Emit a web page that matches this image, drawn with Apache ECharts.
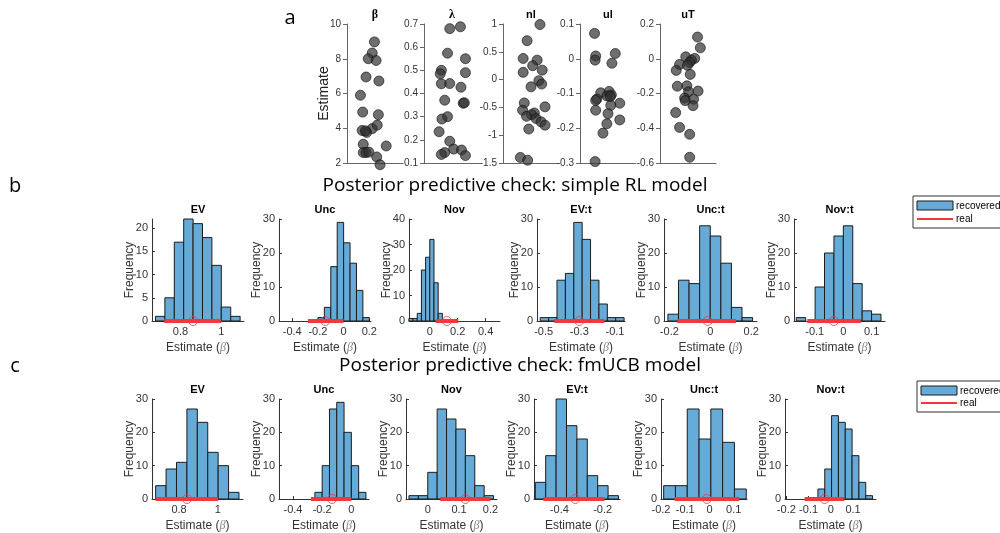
<!DOCTYPE html>
<html>
<head>
<meta charset="utf-8">
<title>Posterior predictive check</title>
<script src="https://cdn.jsdelivr.net/npm/echarts@6/dist/echarts.min.js"></script>
<style>html,body{margin:0;padding:0;background:#fff;}</style>
</head>
<body>
<div id="main" style="width:1000px;height:533px;"></div>
<script>
// ---- panel a: individual estimates, [jitter 0..1, value] ----
var aNames = ['β', 'λ', 'nl', 'ul', 'uT'];
var aLimits = [[2, 10, 2], [0.1, 0.7, 0.1], [-1.5, 1, 0.5], [-0.3, 0.1, 0.1], [-0.6, 0.2, 0.2]];
var betaPts = [[0.49,8.97],[0.45,8.33],[0.38,8.0],[0.52,7.9],[0.34,6.95],[0.57,6.72],[0.24,5.9],
  [0.28,4.93],[0.56,4.78],[0.45,3.98],[0.54,4.18],[0.27,3.87],[0.35,3.76],[0.33,3.85],[0.29,3.08],
  [0.70,2.98],[0.29,2.6],[0.34,2.6],[0.39,2.63],[0.53,2.35],[0.59,1.9]];
var lambdaPts = [[0.46,0.68],[0.65,0.688],[0.42,0.574],[0.74,0.55],[0.31,0.50],[0.29,0.485],[0.74,0.49],
  [0.31,0.442],[0.46,0.443],[0.66,0.427],[0.37,0.371],[0.70,0.358],[0.72,0.36],[0.42,0.30],[0.32,0.29],
  [0.27,0.235],[0.46,0.194],[0.53,0.16],[0.67,0.156],[0.37,0.145],[0.31,0.137],[0.74,0.132]];
var nlPts = [[0.66,0.99],[0.43,0.70],[0.36,0.38],[0.61,0.35],[0.53,0.25],[0.70,0.17],[0.36,0.13],
  [0.64,-0.02],[0.69,-0.08],[0.50,-0.13],[0.38,-0.42],[0.75,-0.49],[0.35,-0.55],[0.56,-0.60],[0.51,-0.63],
  [0.42,-0.66],[0.59,-0.70],[0.68,-0.76],[0.75,-0.82],[0.46,-0.89],[0.31,-1.40],[0.44,-1.45]];
var ulPts = [[0.26,0.073],[0.28,0.008],[0.27,-0.004],[0.63,0.015],[0.57,-0.013],[0.37,-0.098],[0.52,-0.094],
  [0.48,-0.107],[0.56,-0.104],[0.54,-0.109],[0.30,-0.116],[0.28,-0.12],[0.71,-0.128],[0.55,-0.134],
  [0.28,-0.148],[0.50,-0.158],[0.71,-0.176],[0.48,-0.187],[0.41,-0.214],[0.27,-0.296]];
var uTPts = [[0.67,0.125],[0.72,0.063],[0.46,0.011],[0.62,0.002],[0.56,-0.008],[0.53,-0.021],[0.35,-0.033],
  [0.49,-0.038],[0.29,-0.067],[0.54,-0.09],[0.31,-0.158],[0.48,-0.156],[0.51,-0.19],[0.68,-0.186],
  [0.44,-0.226],[0.60,-0.233],[0.45,-0.241],[0.59,-0.27],[0.28,-0.31],[0.35,-0.395],[0.53,-0.435],[0.53,-0.567]];
var aPts = [betaPts, lambdaPts, nlPts, ulPts, uTPts];

// ---- panels b/c: histograms of recovered estimates ----
var histNames = ['EV', 'Unc', 'Nov', 'EV:t', 'Unc:t', 'Nov:t'];

// simple RL model
var rlCounts = [[1,5,17,22,21,18,12,3,1], [1,4,16,29,23,17,9,1], [1,1,3,20,25,32,15,3],
  [1,1,12,14,29,24,12,5,1,1], [2,12,11,28,25,17,4,1], [1,0,10,20,25,28,11,3,2]];
var rlBinStart = [0.678, -0.2, -0.15, -0.519, -0.207, -0.165];
var rlBinWidth = [0.046, 0.05, 0.03, 0.047, 0.0517, 0.0331];
var rlReal = [[0.721,1.0,0.862], [-0.278,0.0,-0.143], [0.043,0.204,0.122],
  [-0.44,-0.16,-0.30], [-0.161,0.125,-0.013], [-0.126,0.062,-0.033]];
var rlXlim = [[0.661,1.111], [-0.503,0.213], [-0.149,0.503], [-0.537,-0.044], [-0.226,0.228], [-0.173,0.147]];
var rlXticks = [[0.8,1], [-0.4,-0.2,0,0.2], [0,0.2,0.4], [-0.5,-0.3,-0.1], [-0.2,0,0.2], [-0.1,0,0.1]];
var rlYmax = [22, 30, 40, 30, 30, 30];
var rlYticks = [[0,5,10,15,20], [0,10,20,30], [0,10,20,30,40], [0,10,20,30], [0,10,20,30], [0,10,20,30]];

// fmUCB model
var ucbCounts = [[4,9,11,27,23,14,10,2], [2,10,27,29,20,10,2], [1,1,8,27,24,21,13,4,1],
  [5,13,30,22,18,7,4,1], [4,4,27,18,27,17,3], [3,9,25,23,21,13,5,1]];
var ucbBinStart = [0.679, -0.25, -0.06, -0.511, -0.189, -0.058];
var ucbBinWidth = [0.0539, 0.05, 0.03, 0.048, 0.0487, 0.0307];
var ucbReal = [[0.679,1.002,0.841], [-0.277,0.0,-0.133], [0.04,0.2,0.12],
  [-0.474,-0.192,-0.326], [-0.144,0.123,-0.011], [-0.118,0.061,-0.028]];
var ucbXlim = [[0.660,1.131], [-0.496,0.121], [-0.0695,0.221], [-0.517,-0.12], [-0.2,0.155], [-0.206,0.203]];
var ucbXticks = [[0.8,1], [-0.4,-0.2,0], [0,0.1,0.2], [-0.4,-0.2], [-0.2,-0.1,0,0.1], [-0.2,-0.1,0,0.1]];
var ucbYmax = [30, 30, 30, 30, 30, 30];
var ucbYticks = [[0,10,20,30], [0,10,20,30], [0,10,20,30], [0,10,20,30], [0,10,20,30], [0,10,20,30]];

// ---- layout ----
var aLeft = [347, 424, 503, 580, 660], aWidth = 56, aTop = 24, aHeight = 139;
var bLeft = [152, 279, 409, 537, 664, 794], bWidth = [92, 92, 91, 88, 93, 91], bTop = 219;
var cLeft = [152, 279, 406, 534, 661, 785], cWidth = [91, 90, 91, 86, 86, 91], cTop = 399;
var histHeight = 102;

var FONT = 'Liberation Sans';
var BAR = '#66aad7';
var RED = '#f03a3a';

var myChart = echarts.init(document.getElementById('main'));
var grids = [], xAxes = [], yAxes = [], series = [], graphics = [];

function text(x, y, str, font, color, align) {
  return {type: 'text', x: x, y: y, silent: true,
    style: {text: str, font: font, fill: color || '#000', textAlign: align || 'center', textVerticalAlign: 'middle'}};
}

// panel a
aPts.forEach(function (pts, i) {
  var g = grids.length;
  grids.push({left: aLeft[i], top: aTop, width: aWidth, height: aHeight});
  xAxes.push({gridIndex: g, type: 'value', min: 0, max: 1,
    axisLine: {onZero: false, lineStyle: {color: '#666'}},
    axisTick: {show: false}, axisLabel: {show: false}, splitLine: {show: false}});
  yAxes.push({gridIndex: g, type: 'value', min: aLimits[i][0], max: aLimits[i][1], interval: aLimits[i][2],
    axisLine: {show: true, onZero: false, lineStyle: {color: '#666'}},
    axisTick: {show: true, inside: false, length: 4, lineStyle: {color: '#666'}},
    axisLabel: {fontSize: 10, color: '#333', margin: 6, fontFamily: FONT},
    splitLine: {show: false},
    name: i === 0 ? 'Estimate' : '', nameLocation: 'middle', nameGap: 16, nameMoveOverlap: false,
    nameTextStyle: {fontSize: 14, color: '#222', fontFamily: FONT}});
  series.push({type: 'scatter', xAxisIndex: g, yAxisIndex: g, data: pts, symbolSize: 10, clip: false,
    itemStyle: {color: 'rgba(48,48,48,0.88)', borderColor: '#111', borderWidth: 0.8}});
  var tf = i < 2 ? 'bold 12px "Liberation Serif"' : 'bold 11px "' + FONT + '"';
  graphics.push(text(aLeft[i] + aWidth / 2, 15, aNames[i], tf));
});

function renderBin(params, api) {
  var n = api.value(2);
  if (!n) return null;
  var p0 = api.coord([api.value(0), n]);
  var p1 = api.coord([api.value(1), 0]);
  return {type: 'rect',
    shape: {x: p0[0], y: p0[1], width: p1[0] - p0[0], height: p1[1] - p0[1]},
    style: {fill: BAR, stroke: '#1c1c1c', lineWidth: 1}};
}

function addHistRow(left, width, top, counts, start, bw, real, xlim, xticks, ymax, yticks) {
  for (var i = 0; i < histNames.length; i++) {
    var g = grids.length;
    grids.push({left: left[i], top: top, width: width[i], height: histHeight});
    xAxes.push({gridIndex: g, type: 'value', min: xlim[i][0], max: xlim[i][1],
      axisLine: {onZero: false, lineStyle: {color: '#333'}},
      axisTick: {show: true, inside: true, length: 3, customValues: xticks[i], lineStyle: {color: '#333'}},
      axisLabel: {fontSize: 11, color: '#333', margin: 5, fontFamily: FONT, customValues: xticks[i]},
      splitLine: {show: false},
      name: '{n|Estimate (}{b|β}{n|)}', nameLocation: 'middle', nameGap: 21,
      nameTextStyle: {rich: {
        n: {fontSize: 12, color: '#333', fontFamily: FONT},
        b: {fontSize: 12, color: '#888', fontStyle: 'italic', fontFamily: 'Liberation Serif'}}}});
    yAxes.push({gridIndex: g, type: 'value', min: 0, max: ymax[i],
      axisLine: {show: true, onZero: false, lineStyle: {color: '#333'}},
      axisTick: {show: true, inside: true, length: 3, customValues: yticks[i], lineStyle: {color: '#333'}},
      axisLabel: {fontSize: 11, color: '#333', margin: 4, fontFamily: FONT, customValues: yticks[i]},
      splitLine: {show: false},
      name: 'Frequency', nameLocation: 'middle', nameGap: 16, nameMoveOverlap: false,
      nameTextStyle: {fontSize: 12, color: '#333', fontFamily: FONT}});
    var bins = counts[i].map(function (c, k) {
      return [start[i] + k * bw[i], start[i] + (k + 1) * bw[i], c];
    });
    series.push({type: 'custom', xAxisIndex: g, yAxisIndex: g, renderItem: renderBin,
      encode: {x: [0, 1], y: 2}, data: bins, z: 2});
    series.push({type: 'line', xAxisIndex: g, yAxisIndex: g, symbol: 'none', clip: false,
      data: [[real[i][0], 0], [real[i][1], 0]], lineStyle: {color: RED, width: 4, cap: 'butt'}, z: 4});
    series.push({type: 'scatter', xAxisIndex: g, yAxisIndex: g, clip: false, symbol: 'circle', symbolSize: 9,
      data: [[real[i][2], 0]], itemStyle: {color: 'rgba(0,0,0,0)', borderColor: RED, borderWidth: 1}, z: 5});
    graphics.push(text(left[i] + width[i] / 2, top - 9, histNames[i], 'bold 11px "' + FONT + '"'));
  }
}

addHistRow(bLeft, bWidth, bTop, rlCounts, rlBinStart, rlBinWidth, rlReal, rlXlim, rlXticks, rlYmax, rlYticks);
addHistRow(cLeft, cWidth, cTop, ucbCounts, ucbBinStart, ucbBinWidth, ucbReal, ucbXlim, ucbXticks, ucbYmax, ucbYticks);

// panel letters and row titles
graphics.push(text(290, 18, 'a', '20px "Open Sans"'));
graphics.push(text(15, 186, 'b', '20px "Open Sans"'));
graphics.push(text(15, 366, 'c', '20px "Open Sans"'));
graphics.push(text(515, 186, 'Posterior predictive check: simple RL model', '19px "Open Sans"'));
graphics.push(text(520, 366, 'Posterior predictive check: fmUCB model', '19px "Open Sans"'));

// legends
function legend(x, y, h) {
  graphics.push({type: 'rect', silent: true, shape: {x: x, y: y, width: 100, height: h},
    style: {fill: '#fff', stroke: '#333', lineWidth: 1}});
  graphics.push({type: 'rect', silent: true, shape: {x: x + 4, y: y + 5, width: 36, height: 9},
    style: {fill: BAR, stroke: '#1c1c1c', lineWidth: 1}});
  graphics.push({type: 'line', silent: true, shape: {x1: x + 4, y1: y + h - 9, x2: x + 40, y2: y + h - 9},
    style: {stroke: RED, lineWidth: 2}});
  graphics.push(text(x + 43, y + 10, 'recovered', '10px "' + FONT + '"', '#000', 'left'));
  graphics.push(text(x + 43, y + h - 9, 'real', '10px "' + FONT + '"', '#000', 'left'));
}
legend(913, 196, 32);
legend(917, 381, 31);

myChart.setOption({
  animation: false,
  backgroundColor: '#fff',
  grid: grids,
  xAxis: xAxes,
  yAxis: yAxes,
  series: series,
  graphic: graphics
});
</script>
</body>
</html>
